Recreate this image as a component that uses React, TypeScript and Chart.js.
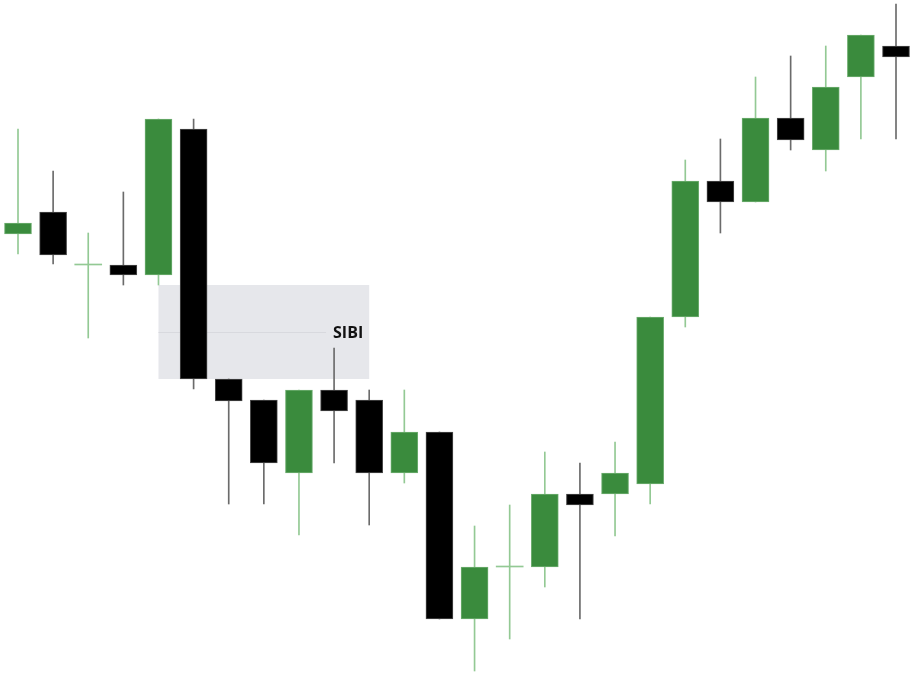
import { useEffect, useRef } from 'react';
import { Chart, registerables } from 'chart.js';

Chart.register(...registerables);

// candle index along the x axis
const candles = [0, 1, 2, 3, 4, 5, 6, 7, 8, 9, 10, 11, 12, 13, 14, 15, 16, 17, 18, 19, 20, 21, 22, 23, 24, 25];

// price levels
const opens = [449, 471, 418, 418, 408, 554, 304, 283, 210, 293, 283, 210, 251, 64, 116, 116, 189, 189, 199, 366, 502, 481, 565, 533, 606, 637];
const highs = [554, 512, 450, 491, 564, 564, 304, 283, 293, 335, 293, 293, 251, 157, 178, 231, 220, 241, 366, 523, 544, 606, 627, 637, 648, 679];
const lows = [429, 419, 345, 398, 398, 294, 179, 179, 148, 220, 158, 200, 64, 12, 44, 96, 64, 147, 179, 356, 450, 481, 533, 512, 544, 544];
const closes = [460, 428, 418, 408, 564, 304, 282, 220, 293, 272, 210, 251, 64, 116, 116, 189, 178, 210, 366, 502, 481, 565, 543, 596, 648, 626];

// SIBI zone: from candle 4 to candle 10, between these price levels
const sibiFrom = 4;
const sibiTo = 10;
const sibiLow = 304;
const sibiHigh = 398;
const sibiLabel = 'SIBI';

const GREEN = '#3a8b3d';
const GREEN_EDGE = '#6fae71';
const GREEN_WICK = '#93c994';
const BLACK = '#000000';
const BLACK_EDGE = '#4a4a4a';
const BLACK_WICK = '#6b6b6b';

const isUp = (i: number) => closes[i] >= opens[i];
const isDoji = (i: number) => closes[i] === opens[i];

const sibiZone = {
  id: 'sibiZone',
  beforeDatasetsDraw(chart: Chart) {
    const { ctx, scales } = chart;
    const x = scales.x;
    const y = scales.y;
    const left = x.getPixelForValue(sibiFrom);
    const right = x.getPixelForValue(sibiTo);
    const top = y.getPixelForValue(sibiHigh);
    const bottom = y.getPixelForValue(sibiLow);
    const mid = y.getPixelForValue((sibiHigh + sibiLow) / 2);

    ctx.save();
    ctx.fillStyle = '#e6e7eb';
    ctx.fillRect(left, top, right - left, bottom - top);

    ctx.font = 'bold 16px "Open Sans", sans-serif';
    ctx.textAlign = 'right';
    ctx.textBaseline = 'middle';
    const textRight = right - 6;
    const textWidth = ctx.measureText(sibiLabel).width;

    ctx.strokeStyle = '#d8d9de';
    ctx.lineWidth = 1;
    ctx.beginPath();
    ctx.moveTo(left, Math.round(mid) + 0.5);
    ctx.lineTo(textRight - textWidth - 7, Math.round(mid) + 0.5);
    ctx.stroke();

    ctx.fillStyle = '#111111';
    ctx.fillText(sibiLabel, textRight, mid + 1);
    ctx.restore();
  },
};

export default function App() {
  const chartRef = useRef<HTMLCanvasElement>(null);
  const chartInstance = useRef<Chart | null>(null);

  useEffect(() => {
    if (!chartRef.current) return;
    if (chartInstance.current) {
      chartInstance.current.destroy();
    }
    const ctx = chartRef.current.getContext('2d');
    if (!ctx) return;

    chartInstance.current = new Chart(ctx, {
      type: 'bar',
      data: {
        datasets: [
          {
            label: 'body',
            data: candles.map((i) => ({ x: i, y: [opens[i], closes[i]] })) as any,
            backgroundColor: (c: any) => (isDoji(c.dataIndex) ? GREEN_WICK : isUp(c.dataIndex) ? GREEN : BLACK),
            borderColor: (c: any) => (isUp(c.dataIndex) ? GREEN_EDGE : BLACK_EDGE),
            borderWidth: (c: any) => (isDoji(c.dataIndex) ? 0 : 1),
            borderSkipped: false,
            barThickness: 27,
            minBarLength: 1,
            grouped: false,
            order: 0,
          },
          {
            label: 'wick',
            data: candles.map((i) => ({ x: i, y: [lows[i], highs[i]] })) as any,
            backgroundColor: (c: any) => (isUp(c.dataIndex) ? GREEN_WICK : BLACK_WICK),
            borderWidth: 0,
            barThickness: 1,
            grouped: false,
            order: 1,
          },
        ],
      },
      options: {
        responsive: true,
        maintainAspectRatio: false,
        animation: false,
        layout: { padding: 0 },
        plugins: {
          legend: { display: false },
          tooltip: { enabled: false },
        },
        scales: {
          x: {
            type: 'linear',
            display: false,
            offset: false,
            min: -0.5125,
            max: 25.427,
          },
          y: {
            type: 'linear',
            display: false,
            min: 0,
            max: 683,
          },
        },
      },
      plugins: [sibiZone],
    });

    return () => {
      if (chartInstance.current) {
        chartInstance.current.destroy();
        chartInstance.current = null;
      }
    };
  }, []);

  return (
    <div style={{ position: 'fixed', left: 0, top: 0, width: 911, height: 683, background: '#ffffff' }}>
      <canvas ref={chartRef} />
    </div>
  );
}
